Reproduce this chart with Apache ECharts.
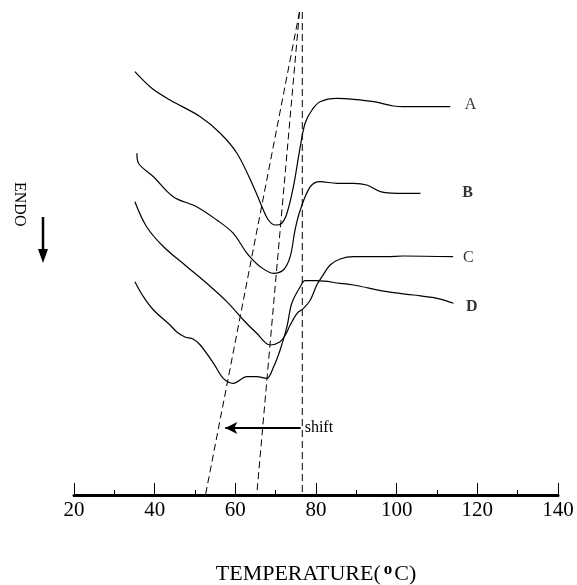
<!DOCTYPE html>
<html>
<head>
<meta charset="utf-8">
<script src="https://cdn.jsdelivr.net/npm/echarts@6/dist/echarts.min.js"></script>
<style>
  html, body { margin: 0; padding: 0; background: #fff; }
  #chart { width: 577px; height: 585px; }
</style>
</head>
<body>
<div id="chart"></div>
<script>
// DSC traces, [temperature (C), heat flow (arb. units)]
const curveA = [
  [35.1, 42.33], [39.3, 40.67], [43.8, 39.5], [51.3, 37.83], [56.2, 36.2],
  [60.4, 34.17], [64.5, 30.83], [66.6, 28.83], [68.2, 27.5], [69.9, 27.0],
  [71.5, 27.17], [72.8, 28.17], [74.4, 30.83], [76.1, 34.83], [77.3, 37.17],
  [79.0, 38.5], [81.0, 39.33], [85.2, 39.67], [89.3, 39.57], [94.3, 39.33],
  [99.2, 38.9], [101.7, 38.83], [113.3, 38.83]
];
const curveB = [
  [35.6, 34.17], [36.0, 33.17], [39.7, 31.83], [44.6, 29.83], [50.4, 28.83],
  [55.4, 27.5], [59.5, 26.17], [62.9, 24.17], [66.2, 22.83], [69.5, 22.17],
  [71.9, 22.5], [73.6, 23.83], [74.8, 26.5], [76.1, 28.5], [78.6, 30.83],
  [81.0, 31.33], [85.2, 31.17], [89.3, 31.17], [92.6, 31.0], [96.0, 30.33],
  [100.0, 30.17], [105.9, 30.17]
];
const curveC = [
  [35.1, 29.33], [38.0, 26.83], [42.2, 24.83], [48.0, 22.83], [52.9, 21.17],
  [57.9, 19.33], [62.0, 17.5], [65.3, 16.17], [68.6, 15.0], [71.1, 15.33],
  [72.4, 16.0], [73.6, 17.0], [75.3, 18.17], [76.9, 18.67], [78.6, 19.5],
  [80.2, 21.0], [81.5, 21.83], [83.5, 23.0], [86.0, 23.6], [89.3, 23.83],
  [97.6, 23.83], [101.6, 23.9], [114.0, 23.83]
];
const curveD = [
  [35.1, 21.33], [37.2, 19.83], [39.7, 18.5], [43.8, 17.0], [45.5, 16.3],
  [47.5, 15.8], [49.5, 15.6], [51.3, 15.0], [54.6, 13.17], [57.0, 11.67],
  [59.5, 11.17], [62.9, 11.83], [65.3, 11.83], [67.8, 11.67], [69.5, 12.83],
  [71.1, 14.5], [72.8, 16.83], [74.0, 19.17], [76.1, 20.83], [77.3, 21.43],
  [80.2, 21.43], [86.0, 21.17], [89.3, 21.0], [97.6, 20.33], [104.2, 20.0],
  [110.0, 19.67], [114.1, 19.17]
];

// dashed construction lines (peak shift)
const dashLeft = [[75.9, 48.3], [52.6, 0]];
const dashMid = [[75.9, 48.3], [65.3, 0]];
const dashRight = [[76.6, 48.3], [76.6, 0]];

// shift arrow, from -> to
const shiftArrow = [[76.2, 6.7], [57.5, 6.7]];

// curve letters: name, x, y, bold
const curveLabels = [
  ['A', 118.3, 39.0, false],
  ['B', 117.6, 30.2, true],
  ['C', 117.8, 23.7, false],
  ['D', 118.6, 18.8, true]
];

const xTicks = { min: 20, max: 140, step: 20 };

const serif = '"Liberation Serif", "DejaVu Serif", serif';

const chart = echarts.init(document.getElementById('chart'));

const curveStyle = (data) => ({
  type: 'line',
  data: data,
  smooth: 0.35,
  symbol: 'none',
  silent: true,
  lineStyle: { color: '#000', width: 1.2 }
});

const dashStyle = (data) => ({
  type: 'line',
  data: data,
  symbol: 'none',
  silent: true,
  lineStyle: { color: '#000', width: 1, type: [7, 4] }
});

chart.setOption({
  backgroundColor: '#fff',
  animation: false,
  grid: { left: 74, right: 19, top: 0, bottom: 90, containLabel: false, outerBoundsMode: 'none' },
  xAxis: {
    type: 'value',
    min: xTicks.min,
    max: xTicks.max,
    interval: xTicks.step,
    splitLine: { show: false },
    axisLine: { lineStyle: { color: '#000', width: 3 } },
    axisTick: { inside: true, length: 12, lineStyle: { color: '#000', width: 1 } },
    minorTick: { show: true, splitNumber: 2, length: 5, lineStyle: { color: '#000', width: 1 } },
    axisLabel: { color: '#000', fontFamily: serif, fontSize: 21, margin: 5 },
    name: '{a|TEMPERATURE(}{s|o}{a|C)}',
    nameLocation: 'middle',
    nameGap: 66,
    nameTextStyle: {
      rich: {
        a: { fontFamily: serif, fontSize: 22, color: '#000' },
        s: { fontFamily: serif, fontSize: 17, fontWeight: 'bold', color: '#000', verticalAlign: 'top', padding: [0, 2, 10, 3] }
      }
    }
  },
  yAxis: {
    type: 'value',
    min: 0,
    max: 49.5,
    show: false
  },
  series: [
    curveStyle(curveA),
    curveStyle(curveB),
    curveStyle(curveC),
    curveStyle(curveD),
    dashStyle(dashLeft),
    dashStyle(dashMid),
    dashStyle(dashRight),
    {
      type: 'line',
      data: [],
      silent: true,
      markLine: {
        silent: true,
        symbol: ['none', 'arrow'],
        symbolSize: [9, 12],
        lineStyle: { color: '#000', width: 2, type: 'solid' },
        label: {
          show: true,
          position: 'start',
          formatter: 'shift',
          color: '#000',
          fontFamily: serif,
          fontSize: 16,
          distance: 4
        },
        data: [[{ coord: shiftArrow[0] }, { coord: shiftArrow[1] }]]
      }
    },
    {
      type: 'scatter',
      symbolSize: 0,
      silent: true,
      data: curveLabels.map(d => ({
        name: d[0],
        value: [d[1], d[2]],
        label: { fontWeight: d[3] ? 'bold' : 'normal' }
      })),
      label: {
        show: true,
        position: 'inside',
        formatter: '{b}',
        color: '#000',
        fontFamily: serif,
        fontSize: 16
      }
    }
  ],
  graphic: [
    {
      type: 'text',
      x: 27,
      y: 182,
      rotation: -Math.PI / 2,
      style: { text: 'ENDO', font: '16px ' + serif, fill: '#000' }
    },
    {
      type: 'line',
      shape: { x1: 43, y1: 217, x2: 43, y2: 252 },
      style: { stroke: '#000', lineWidth: 2.5 }
    },
    {
      type: 'polygon',
      shape: { points: [[38, 249], [48, 249], [43, 263]] },
      style: { fill: '#000' }
    }
  ]
});
</script>
</body>
</html>
